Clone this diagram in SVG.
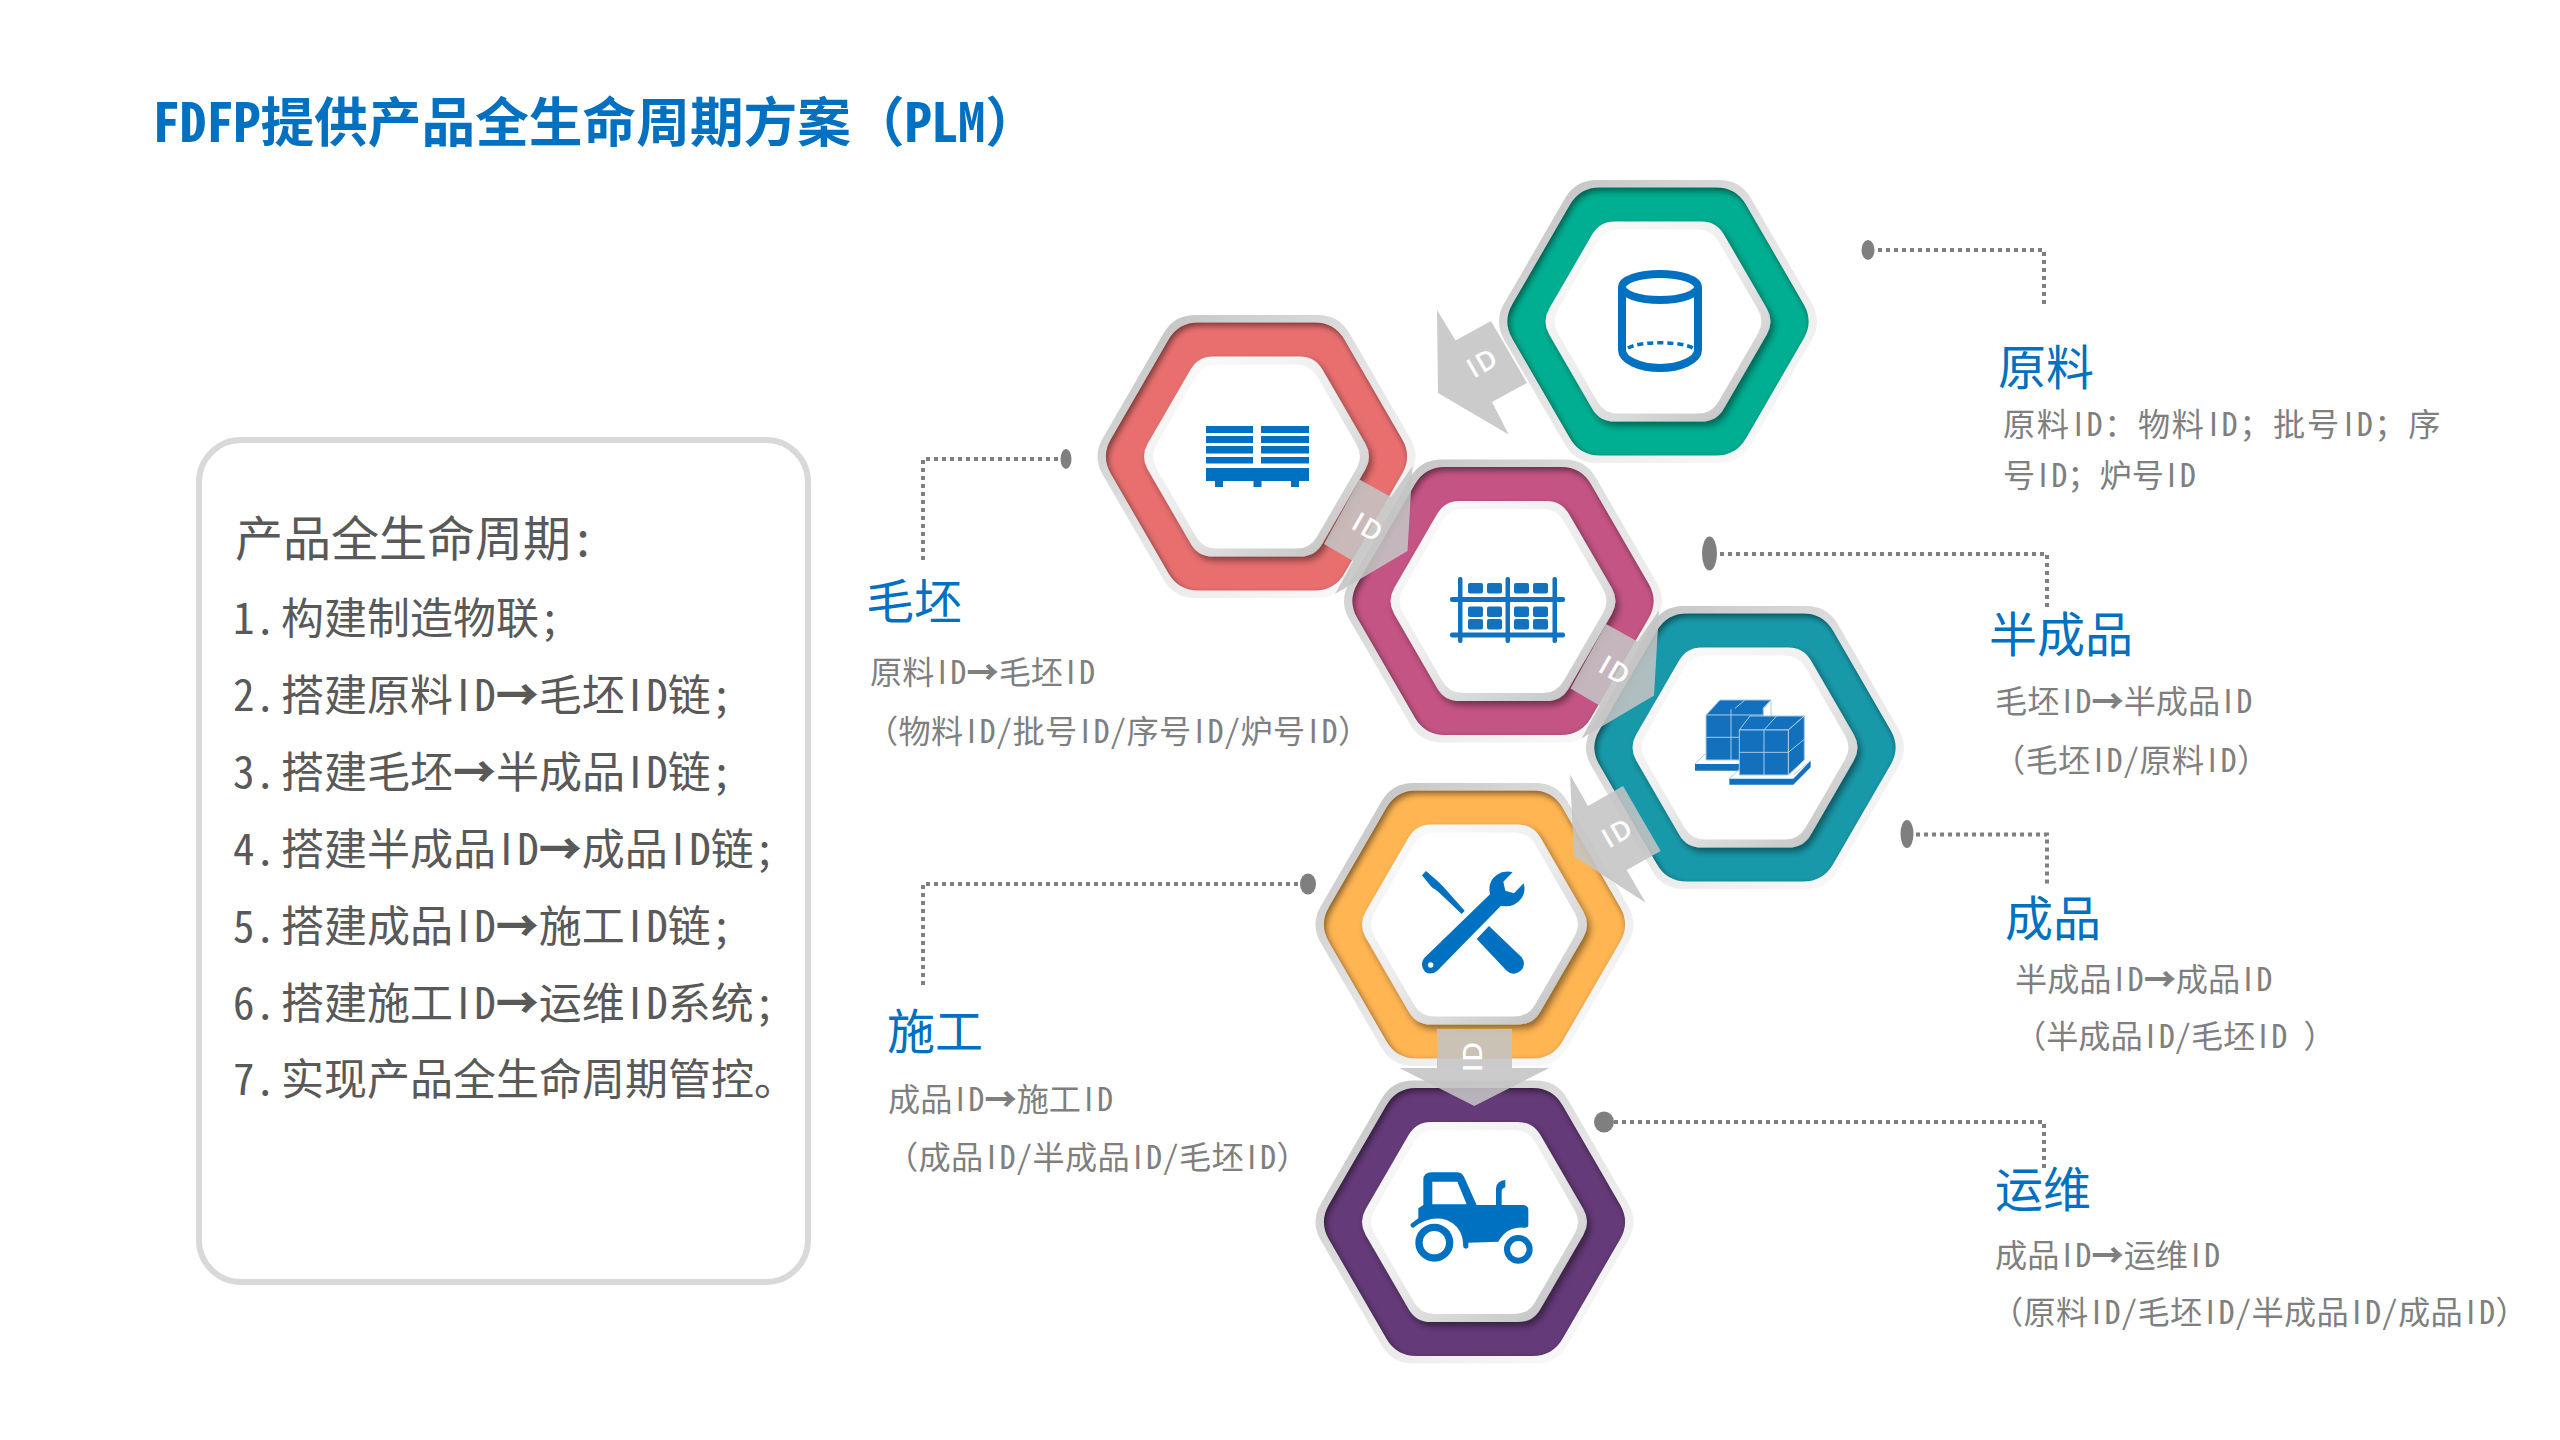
<svg xmlns="http://www.w3.org/2000/svg" width="2560" height="1440" viewBox="0 0 2560 1440">
<style>
text{font-family:"Noto Sans CJK SC","Noto Sans",sans-serif;font-feature-settings:"hwid"}
.t{font-size:53.7px;font-weight:700;fill:#0070c0}
.h{font-size:48px;fill:#0070c0}
.b{font-size:32.2px;fill:#7f7f7f}
.p{letter-spacing:.35px}
.l{font-size:43px;fill:#595959}
.lh{font-size:48px;fill:#595959}
.i{font-feature-settings:normal;letter-spacing:.11em}
.f{font-feature-settings:normal}
.ar{font-weight:900}
.id{font-family:"Open Sans",sans-serif;font-feature-settings:normal;font-size:27px;font-weight:600;fill:#fff;letter-spacing:2px;text-anchor:middle}
.dot{fill:#7f7f7f}
.lead{fill:none;stroke:#7f7f7f;stroke-width:4;stroke-dasharray:4 4}
.arrow{fill:#c4c4c4;fill-opacity:.88}
.ic{fill:#0070c0}
</style>
<defs>
<linearGradient id="gOut" x1="0.1" y1="0.05" x2="0.85" y2="0.95"><stop offset="0" stop-color="#c4c4c4"/><stop offset="0.5" stop-color="#e4e4e4"/><stop offset="1" stop-color="#f9f9f9"/></linearGradient>
<linearGradient id="gIn" x1="0.1" y1="0.05" x2="0.85" y2="0.95"><stop offset="0" stop-color="#fbfbfb"/><stop offset="0.5" stop-color="#ececec"/><stop offset="1" stop-color="#c6c6c6"/></linearGradient>
<filter id="blur" x="-20%" y="-20%" width="140%" height="140%"><feGaussianBlur stdDeviation="3"/></filter>
<filter id="drop" x="-20%" y="-20%" width="140%" height="140%"><feDropShadow dx="3" dy="4" stdDeviation="3.5" flood-color="#000" flood-opacity=".45"/></filter>
<path id="h" d="M-58,-134 L58,-134 Q78,-134 88,-116.700 L145.600,-17.300 Q155.600,0 145.600,17.300 L88,116.700 Q78,134 58,134 L-58,134 Q-78,134 -88,116.700 L-145.600,17.300 Q-155.600,0 -145.600,-17.300 L-88,-116.700 Q-78,-134 -58,-134Z"/>
<clipPath id="cH"><use href="#h"/></clipPath>
<g id="frame">
<use href="#h" transform="scale(1.056)" fill="url(#gOut)"/>
<use href="#h"/>
<g clip-path="url(#cH)"><path transform="translate(2,3)" filter="url(#blur)" fill="#000" fill-opacity=".5" fill-rule="evenodd" d="M-230,-200H230V200H-230Z M-58,-134 L58,-134 Q78,-134 88,-116.700 L145.600,-17.300 Q155.600,0 145.600,17.300 L88,116.700 Q78,134 58,134 L-58,134 Q-78,134 -88,116.700 L-145.600,17.300 Q-155.600,0 -145.600,-17.300 L-88,-116.700 Q-78,-134 -58,-134Z"/></g>
<g filter="url(#drop)"><use href="#h" transform="scale(.747)" fill="url(#gIn)"/></g>
<use href="#h" transform="scale(.687)" fill="#fff"/>
</g>
</defs>
<rect width="2560" height="1440" fill="#fff"/>
<text class="t" x="153" y="142">FDFP提供产品全生命周期方案<tspan class="f">（</tspan>PLM<tspan class="f">）</tspan></text>
<g id="lifecycle">
<rect x="199" y="440" width="609" height="842" rx="42" fill="#fff" stroke="#d9d9d9" stroke-width="6"/>
<text class="lh" x="235" y="556">产品全生命周期:</text>
<text class="l" y="634"><tspan x="233">1.</tspan><tspan x="281">构建制造物联;</tspan></text>
<text class="l" y="711"><tspan x="233">2.</tspan><tspan x="281">搭建原料<tspan class="i" dx="4">I</tspan>D<tspan class="ar">→</tspan>毛坯<tspan class="i" dx="4">I</tspan>D链;</tspan></text>
<text class="l" y="788"><tspan x="233">3.</tspan><tspan x="281">搭建毛坯<tspan class="ar">→</tspan>半成品<tspan class="i" dx="4">I</tspan>D链;</tspan></text>
<text class="l" y="865"><tspan x="233">4.</tspan><tspan x="281">搭建半成品<tspan class="i" dx="4">I</tspan>D<tspan class="ar">→</tspan>成品<tspan class="i" dx="4">I</tspan>D链;</tspan></text>
<text class="l" y="942"><tspan x="233">5.</tspan><tspan x="281">搭建成品<tspan class="i" dx="4">I</tspan>D<tspan class="ar">→</tspan>施工<tspan class="i" dx="4">I</tspan>D链;</tspan></text>
<text class="l" y="1019"><tspan x="233">6.</tspan><tspan x="281">搭建施工<tspan class="i" dx="4">I</tspan>D<tspan class="ar">→</tspan>运维<tspan class="i" dx="4">I</tspan>D系统;</tspan></text>
<text class="l" y="1095"><tspan x="233">7.</tspan><tspan x="281">实现产品全生命周期管控。</tspan></text>
</g>
<g id="raw">
<use href="#frame" x="1658" y="321.5" fill="#00ae91"/>
<g fill="none" stroke="#0070c0" stroke-width="8"><ellipse cx="1660" cy="287" rx="38" ry="13"/><path d="M1622,287V350C1622,360 1640,368 1660,368C1680,368 1698,360 1698,350V287"/><path stroke-width="3.5" stroke-dasharray="6 4" d="M1628,348C1640,341 1680,341 1693,348"/></g>
<text class="h" x="1998" y="385">原料</text>
<text class="b" x="2003" y="436" style="letter-spacing:1.6px">原料<tspan class="i" dx="3">I</tspan>D：物料<tspan class="i" dx="3">I</tspan>D；批号<tspan class="i" dx="3">I</tspan>D；序</text>
<text class="b" x="2003" y="487">号<tspan class="i" dx="3">I</tspan>D；炉号<tspan class="i" dx="3">I</tspan>D</text>
</g>
<g id="blank">
<use href="#frame" x="1256.5" y="456.5" fill="#e96f6f"/>
<g class="ic"><rect x="1206" y="426" width="47" height="7"/><rect x="1206" y="436" width="47" height="7"/><rect x="1206" y="446" width="47" height="7.5"/><rect x="1206" y="457" width="47" height="6.5"/><rect x="1261" y="426" width="48" height="7"/><rect x="1261" y="436" width="48" height="7"/><rect x="1261" y="446" width="48" height="7.5"/><rect x="1261" y="457" width="48" height="6.5"/><rect x="1206" y="468" width="103" height="13"/><rect x="1215" y="481" width="8" height="6"/><rect x="1253.5" y="481" width="8" height="6"/><rect x="1291" y="481" width="8" height="6"/></g>
<text class="h" x="866" y="619">毛坯</text>
<text class="b" x="870" y="684">原料<tspan class="i" dx="3">I</tspan>D<tspan class="ar">→</tspan>毛坯<tspan class="i" dx="3">I</tspan>D</text>
<text class="b p" x="866" y="742.500"><tspan class="f">（</tspan>物料<tspan class="i" dx="3">I</tspan>D/批号<tspan class="i" dx="3">I</tspan>D/序号<tspan class="i" dx="3">I</tspan>D/炉号<tspan class="i" dx="3">I</tspan>D<tspan class="f">）</tspan></text>
</g>
<g id="semi">
<use href="#frame" x="1503" y="601" fill="#c45484"/>
<g fill="#1272bf"><rect x="1458" y="577" width="4.500" height="66" rx="2"/><rect x="1505.500" y="577" width="4.500" height="66" rx="2"/><rect x="1552.500" y="577" width="4.500" height="66" rx="2"/><rect x="1450" y="597" width="115" height="5" rx="2"/><rect x="1450" y="632.500" width="115" height="5" rx="2"/>
<rect x="1468" y="583" width="15" height="10.500" rx="2"/><rect x="1487" y="583" width="15" height="10.500" rx="2"/><rect x="1514" y="583" width="15" height="10.500" rx="2"/><rect x="1533" y="583" width="15" height="10.500" rx="2"/>
<rect x="1468" y="606.500" width="15" height="10.500" rx="2"/><rect x="1487" y="606.500" width="15" height="10.500" rx="2"/><rect x="1514" y="606.500" width="15" height="10.500" rx="2"/><rect x="1533" y="606.500" width="15" height="10.500" rx="2"/><rect x="1468" y="619" width="15" height="10.500" rx="2"/><rect x="1487" y="619" width="15" height="10.500" rx="2"/><rect x="1514" y="619" width="15" height="10.500" rx="2"/><rect x="1533" y="619" width="15" height="10.500" rx="2"/></g>
<text class="h" x="1989" y="652">半成品</text>
<text class="b" x="1995" y="713">毛坯<tspan class="i" dx="3">I</tspan>D<tspan class="ar">→</tspan>半成品<tspan class="i" dx="3">I</tspan>D</text>
<text class="b p" x="1993" y="771.500"><tspan class="f">（</tspan>毛坯<tspan class="i" dx="3">I</tspan>D/原料<tspan class="i" dx="3">I</tspan>D<tspan class="f">）</tspan></text>
</g>
<g id="finished">
<use href="#frame" x="1745" y="747.500" fill="#1899a9"/>
<g transform="translate(1660,680) scale(.3333)" stroke="#a9cbe8" stroke-width="3" fill="#1270bd">
<path stroke="none" d="M105,252H240V272H105Z"/><path fill="none" d="M105,252L135,222"/>
<path d="M138,105L180,60H333L310,85V240H138Z"/><path fill="none" d="M138,172H310M213,88V240M138,105H310M225,85L255,60"/><path fill="none" d="M310,85L333,60V140"/>
<path stroke="none" d="M208,296H400L452,242V262L400,314H208Z"/><path fill="none" d="M208,296L238,268M400,285L452,242"/>
<path d="M238,150L270,108H433L385,150Z"/><path d="M385,150L433,108V240L385,285Z"/><path d="M238,150H385V285H238Z"/><path fill="none" d="M238,217H385M312,150V285M312,150L350,108M385,217L433,178"/>
</g>
<text class="h" x="2005" y="936">成品</text>
<text class="b" x="2015" y="991">半成品<tspan class="i" dx="3">I</tspan>D<tspan class="ar">→</tspan>成品<tspan class="i" dx="3">I</tspan>D</text>
<text class="b" x="2014" y="1047.500"><tspan class="f">（</tspan>半成品<tspan class="i" dx="3">I</tspan>D/毛坯<tspan class="i" dx="3">I</tspan>D <tspan class="f">）</tspan></text>
</g>
<g id="construction">
<use href="#frame" x="1474.500" y="924.500" fill="#ffb552"/>
<g transform="translate(1400,850) scale(.3333)"><path class="ic" d="M66,76L78,63L115,95Q122,102 128,108L194,182L185,192L118,128L105,118Q98,115 92,108Z"/><path class="ic" d="M72,325L270,133Q262,95 290,75Q312,60 338,67L310,95L316,122L342,130L371,100Q380,130 358,152Q335,175 303,167L112,362Q92,378 75,365Q58,345 72,325Z"/><circle cx="92" cy="345" r="8" fill="#fff"/><path class="ic" d="M230,267L267,228L365,322Q380,345 362,362Q340,380 320,362Z"/></g>
<text class="h" x="887" y="1049">施工</text>
<text class="b" x="888" y="1111">成品<tspan class="i" dx="3">I</tspan>D<tspan class="ar">→</tspan>施工<tspan class="i" dx="3">I</tspan>D</text>
<text class="b p" x="886" y="1168.500"><tspan class="f">（</tspan>成品<tspan class="i" dx="3">I</tspan>D/半成品<tspan class="i" dx="3">I</tspan>D/毛坯<tspan class="i" dx="3">I</tspan>D<tspan class="f">）</tspan></text>
</g>
<g id="operation">
<use href="#frame" x="1474.500" y="1222" fill="#643a78"/>
<g transform="translate(1400,1160) scale(.3333)"><path class="ic" fill-rule="evenodd" d="M55,145L70,135V60Q70,37 95,37H170Q185,37 192,50L230,135H370Q385,137 385,150V195Q385,205 370,203Q320,200 295,245L205,248V262Q198,270 190,262Q190,200 140,180Q90,165 40,203Q30,203 32,192L55,175Z M97,65H172L200,133H97Z"/><path class="ic" d="M288,135V85Q290,62 316,60V82Q305,85 305,95V135Z"/><circle cx="103" cy="248" r="46" fill="none" stroke="#0070c0" stroke-width="22"/><circle cx="355" cy="268" r="34" fill="none" stroke="#0070c0" stroke-width="18"/></g>
<text class="h" x="1995" y="1207">运维</text>
<text class="b" x="1995" y="1266.500">成品<tspan class="i" dx="3">I</tspan>D<tspan class="ar">→</tspan>运维<tspan class="i" dx="3">I</tspan>D</text>
<text class="b p" x="1991" y="1323.500"><tspan class="f">（</tspan>原料<tspan class="i" dx="3">I</tspan>D/毛坯<tspan class="i" dx="3">I</tspan>D/半成品<tspan class="i" dx="3">I</tspan>D/成品<tspan class="i" dx="3">I</tspan>D<tspan class="f">）</tspan></text>
</g>
<g id="connectors">
<ellipse class="dot" cx="1868" cy="250" rx="6.500" ry="10"/><path class="lead" d="M1878,250H2044V305"/>
<ellipse class="dot" cx="1709.500" cy="553.500" rx="7.500" ry="17"/><path class="lead" d="M1720,554H2047V609"/>
<ellipse class="dot" cx="1907" cy="834" rx="6.500" ry="14"/><path class="lead" d="M1916,834.500H2047V886"/>
<ellipse class="dot" cx="1308" cy="884" rx="8" ry="10.500"/><path class="lead" d="M1298,884H923V988"/>
<ellipse class="dot" cx="1066" cy="459" rx="5.500" ry="10"/><path class="lead" d="M1058,459H923V563"/>
<ellipse class="dot" cx="1604" cy="1122" rx="10" ry="10.500"/><path class="lead" d="M1614,1122H2044V1169"/>
<polygon class="arrow" points="1437,310 1455.500,340.600 1491,321 1527,383 1492,402 1508.600,434.400 1438,393"/>
<polygon class="arrow" points="1359.500,479.500 1391,497 1412.500,466 1407.500,551 1335,594 1353,561 1324,544"/>
<polygon class="arrow" points="1606,624 1637.500,641.500 1659,610.500 1654,695.500 1581.500,738.500 1599.500,705.500 1570.500,688.500"/>
<polygon class="arrow" points="1570,774.500 1588,806 1623,786 1660.700,851 1626.700,870 1645.700,902.700 1574,856.400"/>
<polygon class="arrow" points="1437,1029 1512,1029 1512,1068 1549.300,1068 1474.300,1106 1399.300,1068 1437,1068"/>
<text class="id" transform="translate(1483,363) rotate(-30)" y="9">ID</text>
<text class="id" transform="translate(1368,528) rotate(30)" y="9">ID</text>
<text class="id" transform="translate(1615,671) rotate(30)" y="9">ID</text>
<text class="id" transform="translate(1618,833) rotate(-30)" y="9">ID</text>
<text class="id" transform="translate(1473,1056) rotate(-90)" y="9">ID</text>
</g>
</svg>
